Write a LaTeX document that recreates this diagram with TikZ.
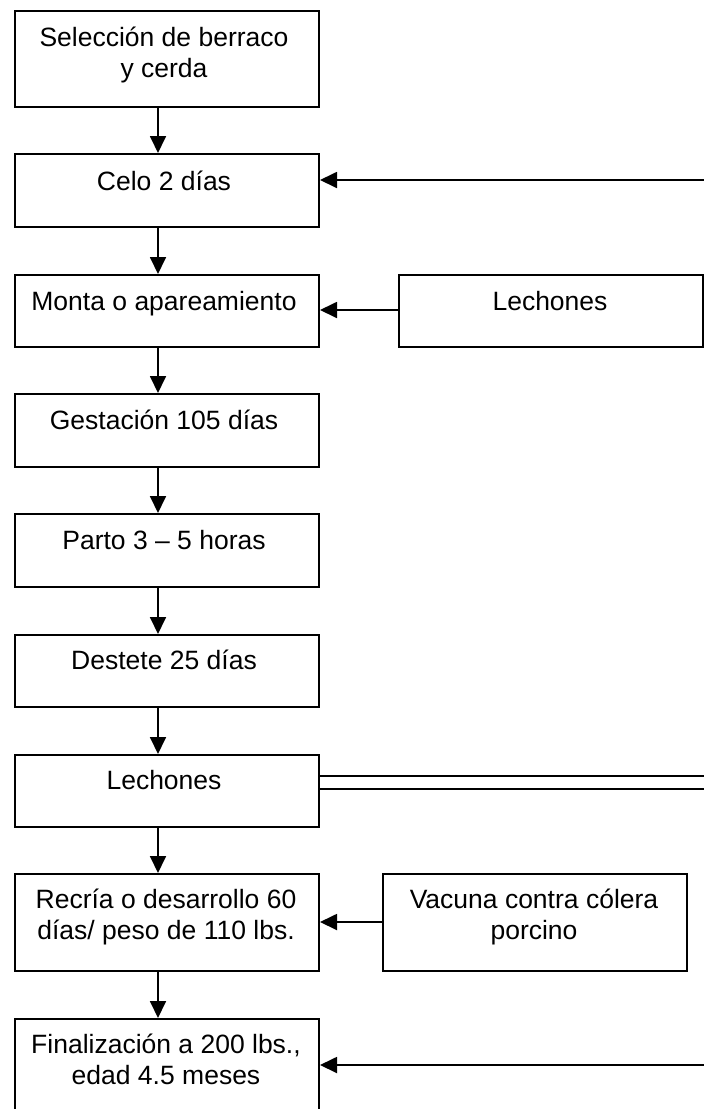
\documentclass[tikz,border=0pt]{standalone}
\usepackage{fontspec}
\setmainfont{Liberation Sans}
\usetikzlibrary{arrows.meta,calc}
\begin{document}
\begin{tikzpicture}[x=1pt,y=-1pt,
  box/.style={draw, line width=2pt, rectangle, anchor=north west, inner sep=0pt},
  lbl/.style={font=\fontsize{26.5}{30.5}\selectfont, align=center, inner sep=0pt, anchor=base},
  arr/.style={line width=1.8pt, -{Triangle[length=17pt,width=16pt]}},
  dbl/.style={line width=1.8pt}]
\useasboundingbox (0,0) rectangle (704,1109);
\fill[white] (0,0) rectangle (704,1109);
% left column boxes
\node[box, minimum width=304pt, minimum height=96pt] (b1) at (14,10) {};
\node[box, minimum width=304pt, minimum height=73pt] (b2) at (14,153) {};
\node[box, minimum width=304pt, minimum height=72pt] (b3) at (14,274) {};
\node[box, minimum width=304pt, minimum height=73pt] (b4) at (14,393) {};
\node[box, minimum width=304pt, minimum height=73pt] (b5) at (14,513) {};
\node[box, minimum width=304pt, minimum height=72pt] (b6) at (14,634) {};
\node[box, minimum width=304pt, minimum height=72pt] (b7) at (14,754) {};
\node[box, minimum width=304pt, minimum height=97pt] (b8) at (14,873) {};
\node[box, minimum width=304pt, minimum height=100pt] (b9) at (14,1018) {};
% right boxes
\node[box, minimum width=304pt, minimum height=72pt] (r3) at (398,274) {};
\node[box, minimum width=304pt, minimum height=97pt] (r8) at (382,873) {};
% texts (base = baseline of last line)
\node[lbl] (t1) at (164,77) {Selección de berraco\\y cerda};
\node[lbl] (t2) at (164,190) {Celo 2 días};
\node[lbl] (t3) at (164,310) {Monta o apareamiento};
\node[lbl] (t4) at (164,429) {Gestación 105 días};
\node[lbl] (t5) at (164,549) {Parto 3 – 5 horas};
\node[lbl] (t6) at (164,669) {Destete 25 días};
\node[lbl] (t7) at (164,789) {Lechones};
\node[lbl] (t8) at (166,939) {Recría o desarrollo 60\\días/ peso de 110 lbs.};
\node[lbl] (t9) at (166,1084) {Finalización a 200 lbs.,\\edad 4.5 meses};
\node[lbl] (tr3) at (550,310) {Lechones};
\node[lbl] (tr8) at (534,939) {Vacuna contra cólera\\porcino};
% vertical connectors
\coordinate (col) at (158,0);
\foreach \a/\b in {b1/b2,b2/b3,b3/b4,b4/b5,b5/b6,b6/b7,b7/b8,b8/b9}
  \draw[arr] (\a.south -| col) -- (\b.north -| col);
% horizontal connectors
\coordinate (e2) at (704,180);
\draw[arr] (e2) -- (e2 -| b2.east);
\coordinate (y3) at (0,310);
\draw[arr] (y3 -| r3.west) -- (y3 -| b3.east);
\coordinate (y8) at (0,922);
\draw[arr] (y8 -| r8.west) -- (y8 -| b8.east);
\coordinate (e9) at (704,1065);
\draw[arr] (e9) -- (e9 -| b9.east);
% double line from Lechones
\coordinate (d1) at (704,776);
\coordinate (d2) at (704,789);
\draw[dbl] (d1 -| b7.east) -- (d1);
\draw[dbl] (d2 -| b7.east) -- (d2);
\end{tikzpicture}
\end{document}
